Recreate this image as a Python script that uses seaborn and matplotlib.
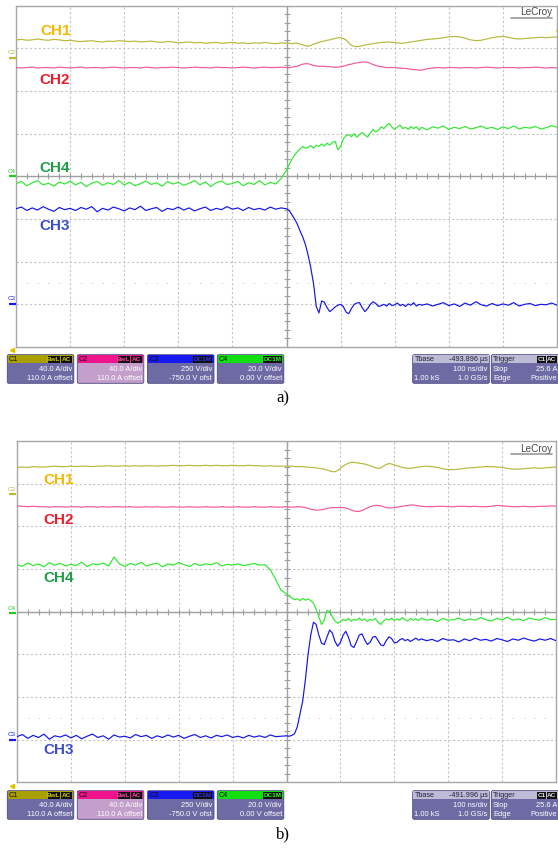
import numpy as np
import pandas as pd
import matplotlib
matplotlib.use("Agg")
import matplotlib.pyplot as plt
import seaborn as sns
from matplotlib.patches import FancyBboxPatch, Rectangle

# ---------------- data (time in ns, amplitude in screen divisions) ----------------
t_pre = list(range(-500, 0, 10))
t_edge = list(range(0, 250, 5))
t_post = list(range(250, 501, 10))
time_ns = t_pre + t_edge + t_post

channels = ["CH1", "CH2", "CH3", "CH4"]

a_ch1 = [3.2, 3.21, 3.19, 3.2, 3.22, 3.2, 3.19, 3.21, 3.2, 3.18, 3.19,
         3.17, 3.16, 3.17, 3.18, 3.16, 3.15, 3.17, 3.16, 3.18, 3.17,
         3.16, 3.17, 3.15, 3.16, 3.17, 3.15, 3.14, 3.16, 3.15, 3.13,
         3.14, 3.15, 3.13, 3.14, 3.12, 3.13, 3.14, 3.12, 3.13, 3.14,
         3.12, 3.13, 3.11, 3.13, 3.12, 3.14, 3.12, 3.11, 3.13,
         3.12, 3.12, 3.11, 3.12, 3.12, 3.1, 3.08, 3.06, 3.05, 3.07,
         3.1, 3.12, 3.14, 3.16, 3.17, 3.19, 3.2, 3.22, 3.23, 3.25,
         3.25, 3.23, 3.2, 3.13, 3.07, 3.05, 3.04, 3.05, 3.06, 3.08,
         3.09, 3.1, 3.11, 3.12, 3.13, 3.14, 3.14, 3.15, 3.15, 3.14,
         3.14, 3.13, 3.12, 3.12, 3.13, 3.14, 3.15, 3.16, 3.17, 3.18,
         3.19, 3.21, 3.22, 3.23, 3.25, 3.27, 3.28, 3.27, 3.24, 3.2, 3.18, 3.19, 3.22,
         3.25, 3.27, 3.28, 3.26, 3.23, 3.22, 3.23, 3.24, 3.25, 3.26, 3.25, 3.26, 3.27]
a_ch2 = [2.55, 2.54, 2.55, 2.56, 2.54, 2.55, 2.55, 2.54, 2.56, 2.55, 2.54,
         2.55, 2.56, 2.54, 2.55, 2.55, 2.54, 2.55, 2.56, 2.55, 2.54,
         2.55, 2.55, 2.54, 2.56, 2.55, 2.54, 2.55, 2.55, 2.56, 2.55,
         2.54, 2.55, 2.56, 2.55, 2.55, 2.54, 2.56, 2.55, 2.55, 2.54,
         2.55, 2.56, 2.55, 2.54, 2.55, 2.56, 2.55, 2.55, 2.56,
         2.55, 2.55, 2.56, 2.57, 2.58, 2.61, 2.63, 2.64, 2.64, 2.62,
         2.6, 2.59, 2.58, 2.58, 2.58, 2.57, 2.57, 2.56, 2.56, 2.56,
         2.57, 2.58, 2.6, 2.62, 2.63, 2.65, 2.66, 2.67, 2.68, 2.68,
         2.67, 2.65, 2.62, 2.6, 2.58, 2.57, 2.56, 2.55, 2.55, 2.55,
         2.55, 2.54, 2.54, 2.53, 2.53, 2.52, 2.51, 2.5, 2.5, 2.49,
         2.49, 2.52, 2.54, 2.55, 2.54, 2.55, 2.55, 2.54, 2.55, 2.55, 2.54, 2.55, 2.56,
         2.55, 2.54, 2.55, 2.55, 2.55, 2.54, 2.55, 2.55, 2.56, 2.55, 2.54, 2.55, 2.54]
a_ch3 = [-0.76, -0.72, -0.8, -0.74, -0.79, -0.71, -0.77, -0.82, -0.73, -0.78, -0.75,
         -0.8, -0.73, -0.77, -0.71, -0.83, -0.75, -0.79, -0.72, -0.76, -0.81,
         -0.74, -0.78, -0.7, -0.8, -0.76, -0.73, -0.82, -0.75, -0.78, -0.72,
         -0.79, -0.74, -0.81, -0.76, -0.72, -0.8, -0.75, -0.78, -0.71, -0.77,
         -0.74, -0.8, -0.73, -0.78, -0.75, -0.79, -0.72, -0.77, -0.74,
         -0.76, -0.8, -0.9, -1.0, -1.12, -1.28, -1.42, -1.6, -1.85, -2.15,
         -2.52, -3.05, -3.2, -2.92, -2.95, -3.08, -3.17, -3.12, -3.06, -3.02,
         -3.0, -3.05, -3.18, -3.22, -3.1, -3.0, -2.97, -2.96, -3.08, -3.17,
         -3.1, -3.0, -2.94, -2.98, -3.05, -3.03, -3.0, -3.04, -2.98, -3.03,
         -3.01, -2.97, -3.03, -3.0, -3.05, -2.99, -3.02, -2.96, -3.04, -3.0,
         -3.02, -2.99, -3.04, -3.0, -2.96, -3.03, -2.99, -3.05, -2.97, -3.02, -2.94, -3.01, -3.04,
         -2.98, -3.03, -2.99, -3.02, -2.96, -3.04, -3.0, -2.98, -3.03, -3.0, -3.01, -2.97, -3.02]
a_ch4 = [-0.17, -0.12, -0.22, -0.15, -0.1, -0.2, -0.16, -0.23, -0.13, -0.18, -0.11,
         -0.2, -0.14, -0.24, -0.16, -0.12, -0.21, -0.15, -0.19, -0.1, -0.2,
         -0.14, -0.22, -0.17, -0.11, -0.19, -0.15, -0.23, -0.12, -0.18, -0.14,
         -0.21, -0.16, -0.1, -0.2, -0.13, -0.24, -0.15, -0.11, -0.19, -0.17,
         -0.12, -0.22, -0.15, -0.19, -0.1, -0.2, -0.14, -0.18, -0.05,
         0.15, 0.28, 0.4, 0.5, 0.58, 0.64, 0.7, 0.66, 0.68, 0.72,
         0.66, 0.73, 0.7, 0.76, 0.71, 0.78, 0.73, 0.8, 0.82, 0.62,
         0.7, 0.88, 0.95, 0.98, 0.93, 1.0, 0.92, 0.98, 1.03, 0.97,
         0.92, 1.02, 1.1, 1.04, 1.08, 1.16, 1.12, 1.2, 1.24, 1.15,
         1.1, 1.16, 1.2, 1.12, 1.15, 1.1, 1.17, 1.12, 1.16, 1.09,
         1.15, 1.09, 1.16, 1.13, 1.18, 1.1, 1.15, 1.12, 1.17, 1.11, 1.14, 1.18, 1.12,
         1.15, 1.1, 1.16, 1.12, 1.18, 1.11, 1.15, 1.13, 1.17, 1.11, 1.14, 1.19, 1.15]

b_ch1 = [3.38, 3.39, 3.38, 3.4, 3.39, 3.39, 3.4, 3.41, 3.4, 3.4, 3.41,
         3.4, 3.41, 3.41, 3.4, 3.41, 3.41, 3.42, 3.41, 3.41, 3.42,
         3.41, 3.42, 3.41, 3.42, 3.42, 3.41, 3.42, 3.42, 3.43, 3.42,
         3.42, 3.43, 3.42, 3.42, 3.43, 3.42, 3.43, 3.42, 3.42, 3.43,
         3.42, 3.42, 3.43, 3.42, 3.42, 3.41, 3.42, 3.41, 3.41,
         3.41, 3.41, 3.41, 3.4, 3.4, 3.4, 3.4, 3.39, 3.39, 3.38,
         3.38, 3.37, 3.36, 3.35, 3.34, 3.32, 3.3, 3.28, 3.28, 3.31,
         3.36, 3.41, 3.45, 3.48, 3.5, 3.5, 3.49, 3.48, 3.47, 3.46,
         3.44, 3.42, 3.4, 3.37, 3.36, 3.37, 3.41, 3.45, 3.47, 3.46,
         3.44, 3.42, 3.4, 3.38, 3.37, 3.36, 3.36, 3.37, 3.38, 3.39,
         3.4, 3.41, 3.4, 3.38, 3.35, 3.33, 3.33, 3.34, 3.36, 3.37, 3.38, 3.39, 3.4,
         3.4, 3.39, 3.38, 3.36, 3.34, 3.34, 3.35, 3.36, 3.37, 3.36, 3.37, 3.38, 3.39]
b_ch2 = [2.48, 2.47, 2.46, 2.47, 2.46, 2.46, 2.45, 2.46, 2.46, 2.45, 2.46,
         2.46, 2.45, 2.46, 2.46, 2.45, 2.46, 2.45, 2.46, 2.46, 2.45,
         2.46, 2.45, 2.45, 2.46, 2.45, 2.46, 2.45, 2.45, 2.46, 2.45,
         2.45, 2.46, 2.45, 2.45, 2.46, 2.45, 2.45, 2.46, 2.45, 2.45,
         2.46, 2.45, 2.45, 2.46, 2.45, 2.45, 2.46, 2.45, 2.45,
         2.46, 2.45, 2.45, 2.45, 2.46, 2.46, 2.45, 2.44, 2.42, 2.4,
         2.39, 2.38, 2.38, 2.39, 2.4, 2.42, 2.43, 2.44, 2.44, 2.44,
         2.44, 2.44, 2.43, 2.41, 2.38, 2.36, 2.35, 2.35, 2.37, 2.4,
         2.43, 2.46, 2.48, 2.49, 2.49, 2.48, 2.46, 2.44, 2.43, 2.43,
         2.44, 2.45, 2.46, 2.47, 2.48, 2.49, 2.5, 2.5, 2.49, 2.48,
         2.47, 2.46, 2.46, 2.47, 2.47, 2.46, 2.46, 2.47, 2.47, 2.46, 2.47, 2.46, 2.46,
         2.47, 2.49, 2.48, 2.47, 2.46, 2.46, 2.47, 2.46, 2.46, 2.47, 2.47, 2.48, 2.47]
b_ch3 = [-2.93, -2.88, -2.97, -2.9, -2.95, -2.87, -2.99, -2.91, -2.94, -2.89, -2.96,
         -2.9, -2.98, -2.92, -2.87, -2.95, -2.91, -2.99, -2.89, -2.94, -2.92,
         -2.96, -2.88, -2.93, -2.9, -2.97, -2.91, -2.95, -2.89, -2.94, -2.9,
         -2.97, -2.92, -2.88, -2.95, -2.91, -2.96, -2.9, -2.93, -2.89, -2.95,
         -2.92, -2.96, -2.9, -2.94, -2.91, -2.95, -2.89, -2.93, -2.92,
         -2.91, -2.92, -2.9, -2.86, -2.7, -2.4, -2.1, -1.6, -1.0, -0.55,
         -0.25, -0.3, -0.55, -0.74, -0.77, -0.6, -0.43, -0.5, -0.7, -0.81,
         -0.72, -0.55, -0.46, -0.6, -0.8, -0.84, -0.7, -0.55, -0.52, -0.66,
         -0.77, -0.72, -0.6, -0.58, -0.68, -0.78, -0.8, -0.68, -0.59, -0.63,
         -0.73, -0.72, -0.66, -0.63, -0.68, -0.65, -0.7, -0.66, -0.62, -0.67,
         -0.64, -0.68, -0.65, -0.7, -0.63, -0.67, -0.66, -0.71, -0.64, -0.68, -0.62, -0.67, -0.65,
         -0.69, -0.63, -0.66, -0.7, -0.64, -0.67, -0.62, -0.66, -0.69, -0.64, -0.67, -0.63, -0.68]
b_ch4 = [1.1, 1.06, 1.14, 1.08, 1.12, 1.05, 1.15, 1.09, 1.13, 1.07, 1.11,
         1.08, 1.16, 1.06, 1.12, 1.1, 1.14, 1.07, 1.28, 1.12, 1.06,
         1.13, 1.09, 1.16, 1.07, 1.11, 1.14, 1.05, 1.12, 1.09, 1.15,
         1.1, 1.06, 1.13, 1.08, 1.12, 1.1, 1.15, 1.07, 1.11, 1.09,
         1.12, 1.08, 1.1, 1.13, 1.09, 1.1, 0.98, 0.75, 0.5,
         0.42, 0.36, 0.32, 0.28, 0.3, 0.26, 0.31, 0.27, 0.3, 0.26,
         0.2, 0.05, -0.12, -0.3, -0.2, 0.03, 0.0, -0.12, -0.22, -0.27,
         -0.24, -0.18, -0.21, -0.16, -0.22, -0.18, -0.2, -0.15, -0.21, -0.17,
         -0.23, -0.18, -0.2, -0.16, -0.25, -0.3, -0.22, -0.17, -0.2, -0.15,
         -0.21, -0.17, -0.2, -0.14, -0.19, -0.22, -0.16, -0.2, -0.17, -0.21,
         -0.15, -0.2, -0.18, -0.23, -0.16, -0.2, -0.19, -0.15, -0.21, -0.17, -0.2, -0.14, -0.19,
         -0.22, -0.16, -0.19, -0.13, -0.2, -0.17, -0.21, -0.15, -0.18, -0.2, -0.14, -0.19, -0.18]

# info-bar texts
chan_scale = ["40.0 A/div", "40.0 A/div", "250 V/div", "20.0 V/div"]
chan_offset = ["110.0 A offset", "110.0 A offset", "-750.0 V ofst", "0.00 V offset"]
tbase_values = ["-493.896 µs", "-491.996 µs"]
panel_captions = ["a)", "b)"]

# ---------------- styling ----------------
sns.set_style("white")
plt.rcParams["font.family"] = ["Liberation Sans", "DejaVu Sans"]

trace_colors = {"CH1": "#b8b83a", "CH2": "#f2589c", "CH3": "#1414ec", "CH4": "#2ee82e"}
label_colors = {"CH1": "#f7b800", "CH2": "#e81e2c", "CH3": "#3b4ec8", "CH4": "#1f9e48"}

W, H = 558, 848
fig = plt.figure(figsize=(W / 100, H / 100), dpi=100)
fig.patch.set_facecolor("white")

panel_px = [(16, 5.7, 557, 347.0), (17, 441.0, 556, 782.3)]
panel_data = [
    {"CH1": a_ch1, "CH2": a_ch2, "CH3": a_ch3, "CH4": a_ch4},
    {"CH1": b_ch1, "CH2": b_ch2, "CH3": b_ch3, "CH4": b_ch4},
]

minor_x = [v for v in range(-500, 501, 20) if v % 100 != 0]

axes = []
for (x0, y0, x1, y1), pdata in zip(panel_px, panel_data):
    ax = fig.add_axes([x0 / W, 1 - y1 / H, (x1 - x0) / W, (y1 - y0) / H])
    frames = [pd.DataFrame({"t": time_ns, "v": pdata[c], "ch": c}) for c in channels]
    df = pd.concat(frames, ignore_index=True)
    sns.lineplot(data=df, x="t", y="v", hue="ch", palette=trace_colors,
                 estimator=None, sort=False, legend=False, linewidth=0.85, ax=ax, zorder=5)
    ax.set_xlim(-500, 500)
    ax.set_ylim(-4, 4)
    ax.set_xticks(range(-500, 501, 100))
    ax.set_yticks(range(-4, 5))
    ax.tick_params(length=0, labelbottom=False, labelleft=False)
    ax.set_xlabel("")
    ax.set_ylabel("")
    ax.grid(True, color="#c4c4c4", linestyle=(0, (2, 2)), linewidth=0.8)
    for s in ax.spines.values():
        s.set_color("#a8a8a8")
        s.set_linewidth(1.0)
    ax.axhline(0, color="#a0a0a0", lw=1.0, zorder=2)
    ax.axvline(0, color="#a0a0a0", lw=1.0, zorder=2)
    ax.plot(np.arange(-500, 501, 20), np.zeros(51), ls="none", marker="|",
            ms=4, mew=0.8, color="#a0a0a0", zorder=2)
    ax.plot(np.zeros(41), np.arange(-4, 4.01, 0.2), ls="none", marker="_",
            ms=4, mew=0.8, color="#a0a0a0", zorder=2)
    ax.plot(minor_x, np.full(len(minor_x), -2.5), ls="none", marker="s",
            ms=0.7, mew=0, color="#c0c0c0", zorder=2)
    axes.append(ax)

# ---------------- overlay in pixel coordinates ----------------
ov = fig.add_axes([0, 0, 1, 1], zorder=10)
ov.set_xlim(0, W)
ov.set_ylim(H, 0)
ov.axis("off")
ov.patch.set_alpha(0)

# channel labels
label_pos = [
    {"CH1": (40.5, 31), "CH2": (39.5, 80), "CH4": (39, 167.5), "CH3": (39, 226)},
    {"CH1": (43, 479.5), "CH2": (43, 519.5), "CH4": (43, 578), "CH3": (43, 750.5)},
]
for lp in label_pos:
    for c, (x, y) in lp.items():
        ov.text(x, y, c, color=label_colors[c], fontsize=11, fontweight="bold",
                ha="left", va="center")

# left-side channel markers
marker_pos = [
    [("C2", trace_colors["CH1"], 57.5), ("C4", "#22cc22", 176), ("C3", "#1a1ae8", 303.5)],
    [("C2", trace_colors["CH1"], 494), ("C4", "#22cc22", 612.5), ("C3", "#1a1ae8", 739.5)],
]
for mp in marker_pos:
    for name, col, y in mp:
        ov.text(7.5, y - 4.5, name, color=col, fontsize=4.5, ha="left", va="center")
        ov.plot([9, 16], [y, y], color=col, lw=1.6, solid_capstyle="butt")
for yy in (349.5, 786):
    ov.plot([12], [yy], marker="<", ms=3, color="#e0c000", ls="none")
ov.plot([557, 558], [30, 30], color=trace_colors["CH1"], lw=2)

# LeCroy logos
for ly in (12, 448.5):
    ov.text(552, ly, "LeCroy", color="#4a4a4a", fontsize=7.2, ha="right", va="center")
    ov.plot([511, 552], [ly + 5.5, ly + 5.5], color="#9a9a9a", lw=1.2)

# info bars
body_col = "#6e6aa4"
hdr_specs = [
    ("C1", "#a89f00", "#cfc600", ["BwL", "AC"], body_col),
    ("C2", "#f0148c", "#ff3fa0", ["BwL", "AC"], "#c59fcb"),
    ("C3", "#1818f0", "#3030ff", ["DC1M"], body_col),
    ("C4", "#10e010", "#20ff20", ["DC1M"], body_col),
]
box_x = [7.3, 77.3, 147.5, 217.3]
box_w = 66.5
tag_w = {"BwL": 13.0, "AC": 12.0, "DC1M": 20.0, "C1": 10.0}


def rbox(x, y, w, h, fc, ec="#4c4880", lw=0.6):
    p = FancyBboxPatch((x, y), w, h, boxstyle="round,pad=0,rounding_size=1.5",
                       fc=fc, ec=ec, lw=lw)
    ov.add_patch(p)


for pi, y0 in enumerate((354.7, 790.7)):
    for i, (name, hc, tc, tags, bc) in enumerate(hdr_specs):
        x = box_x[i]
        rbox(x, y0, box_w, 28.6, bc)
        ov.add_patch(Rectangle((x + 0.4, y0 + 0.4), box_w - 0.8, 8.2, fc=hc, ec="none"))
        ov.text(x + 1.8, y0 + 4.6, name, fontsize=5.2, color="#101010", ha="left", va="center")
        xr = x + box_w - 1.2
        for tg in reversed(tags):
            tw = tag_w[tg]
            ov.add_patch(Rectangle((xr - tw, y0 + 1.0), tw - 0.6, 7.0, fc="#101010", ec="none"))
            ov.text(xr - tw / 2 - 0.3, y0 + 4.6, tg, fontsize=4.6, color=tc,
                    ha="center", va="center", fontweight="bold")
            xr -= tw
        ov.text(x + box_w - 1.8, y0 + 15.0, chan_scale[i], fontsize=5.4, color="white",
                ha="right", va="center")
        ov.text(x + box_w - 1.8, y0 + 23.3, chan_offset[i], fontsize=5.4, color="white",
                ha="right", va="center")
    # timebase box
    tx, tw_ = 412.7, 76.6
    rbox(tx, y0, tw_, 28.6, body_col)
    ov.add_patch(Rectangle((tx + 0.4, y0 + 0.4), tw_ - 0.8, 8.2, fc="#bcbcd6", ec="none"))
    ov.text(tx + 1.8, y0 + 4.6, "Tbase", fontsize=5.2, color="#202040", ha="left", va="center")
    ov.text(tx + tw_ - 1.8, y0 + 4.6, tbase_values[pi], fontsize=5.2, color="#202040",
            ha="right", va="center")
    ov.text(tx + tw_ - 1.8, y0 + 15.0, "100 ns/div", fontsize=5.4, color="white",
            ha="right", va="center")
    ov.text(tx + 1.8, y0 + 23.3, "1.00 kS", fontsize=5.4, color="white", ha="left", va="center")
    ov.text(tx + tw_ - 1.8, y0 + 23.3, "1.0 GS/s", fontsize=5.4, color="white",
            ha="right", va="center")
    # trigger box
    gx, gw = 491.3, 68.0
    rbox(gx, y0, gw, 28.6, body_col)
    ov.add_patch(Rectangle((gx + 0.4, y0 + 0.4), gw - 0.8, 8.2, fc="#bcbcd6", ec="none"))
    ov.text(gx + 1.8, y0 + 4.6, "Trigger", fontsize=5.2, color="#202040", ha="left", va="center")
    xr = W - 0.5
    for tg in ("AC", "C1"):
        tw = 10.5
        ov.add_patch(Rectangle((xr - tw, y0 + 1.0), tw - 0.6, 7.0, fc="#101010", ec="none"))
        ov.text(xr - tw / 2 - 0.3, y0 + 4.6, tg, fontsize=4.6, color="#e0e0e0",
                ha="center", va="center", fontweight="bold")
        xr -= tw
    ov.text(gx + 1.8, y0 + 15.0, "Stop", fontsize=5.4, color="white", ha="left", va="center")
    ov.text(W - 1.0, y0 + 15.0, "25.6 A", fontsize=5.4, color="white", ha="right", va="center")
    ov.text(gx + 1.8, y0 + 23.3, "Edge", fontsize=5.4, color="white", ha="left", va="center")
    ov.text(W - 1.0, y0 + 23.3, "Positive", fontsize=5.4, color="white", ha="right", va="center")

# captions
for cy, cap in zip((398, 834), panel_captions):
    ov.text(283, cy, cap, fontsize=12, family=["Liberation Serif", "DejaVu Serif"],
            ha="center", va="center", color="black")

fig.savefig("out.png", dpi=100, facecolor="white")
